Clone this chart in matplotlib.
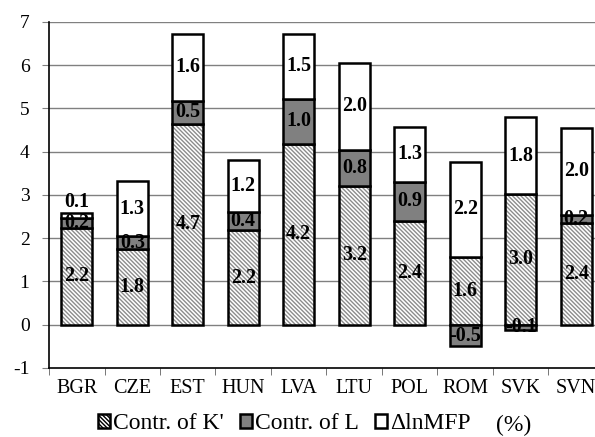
import numpy as np
import matplotlib
matplotlib.use('Agg')
import matplotlib.pyplot as plt
from matplotlib.patches import Patch

plt.rcParams['font.family'] = ['Liberation Serif', 'DejaVu Serif']
plt.rcParams['hatch.linewidth'] = 1.0

# datos (%)
paises = ['BGR', 'CZE', 'EST', 'HUN', 'LVA', 'LTU', 'POL', 'ROM', 'SVK', 'SVN']
contr_k = [2.23, 1.76, 4.65, 2.18, 4.19, 3.21, 2.40, 1.57, 3.02, 2.35]
contr_l = [0.24, 0.28, 0.53, 0.42, 1.03, 0.84, 0.90, -0.50, -0.12, 0.18]
mfp = [0.11, 1.28, 1.55, 1.22, 1.51, 2.01, 1.28, 2.19, 1.78, 2.03]

k = np.array(contr_k)
l = np.array(contr_l)
m = np.array(mfp)
x = np.arange(len(paises))
ancho = 0.56
rayado = '\\' * 8

# base de cada segmento (los negativos van para abajo desde cero)
base_l = np.where(l >= 0, k, 0)
tope_pos = k + np.where(l > 0, l, 0)

fig = plt.figure(figsize=(5.95, 4.37), dpi=100)
ax = fig.add_axes([0.0824, 0.158, 1.015 - 0.0824, 0.9497 - 0.158])

# segmento K' rayado
ax.bar(x, k, ancho, color='white', edgecolor='#8c8c8c', hatch=rayado, linewidth=0, zorder=2)
ax.bar(x, k, ancho, fill=False, edgecolor='black', linewidth=1.8, zorder=3)
# segmento L gris
ax.bar(x, l, ancho, bottom=base_l, color='#808080', edgecolor='black', linewidth=1.8, zorder=3)
# segmento MFP blanco
ax.bar(x, m, ancho, bottom=tope_pos, color='white', edgecolor='black', linewidth=1.8, zorder=3)

fs = 14.4
for i in range(len(x)):
    ax.text(x[i], k[i] / 2, '%.1f' % k[i], ha='center', va='center', fontsize=fs, fontweight='bold', zorder=4)
    ax.text(x[i], base_l[i] + l[i] / 2, '%.1f' % l[i], ha='center', va='center', fontsize=fs, fontweight='bold', zorder=4)
    if m[i] < 0.2:
        ax.text(x[i], tope_pos[i] + m[i] + 0.02, '%.1f' % m[i], ha='center', va='bottom', fontsize=fs, fontweight='bold', zorder=4)
    else:
        ax.text(x[i], tope_pos[i] + m[i] / 2, '%.1f' % m[i], ha='center', va='center', fontsize=fs, fontweight='bold', zorder=4)

ax.set_ylim(-1, 7)
ax.set_xlim(-0.5, len(x) - 0.5)
ax.set_yticks(range(-1, 8))
ax.set_yticklabels([str(v) for v in range(-1, 8)], fontsize=14)
for v in range(0, 8):
    ax.axhline(v, color='#808080', linewidth=1.0, zorder=1)

ax.set_xticks(x)
ax.set_xticklabels(paises, fontsize=14.5)
ax.set_xticks(np.arange(-0.5, len(x) + 0.5, 1), minor=True)
ax.tick_params(axis='x', which='major', length=0, pad=8)
ax.tick_params(axis='x', which='minor', length=5, color='#606060')
ax.tick_params(axis='y', length=5, color='#808080', pad=9)

for s in ['top', 'right']:
    ax.spines[s].set_visible(False)
ax.spines['left'].set_linewidth(1.2)
ax.spines['bottom'].set_linewidth(1.2)

handles = [Patch(facecolor='white', edgecolor='black', hatch=rayado, linewidth=1.8),
           Patch(facecolor='#808080', edgecolor='black', linewidth=1.8),
           Patch(facecolor='white', edgecolor='black', linewidth=1.8)]
fig.legend(handles, ["Contr. of K'", 'Contr. of L', '\u0394lnMFP'], loc='center',
           bbox_to_anchor=(0.478, 0.03), ncol=3, frameon=False, fontsize=17,
           handlelength=0.5, handleheight=0.5, handletextpad=0.13, columnspacing=0.7,
           borderaxespad=0, borderpad=0)
fig.text(0.863, 0.027, '(%)', fontsize=17, ha='center', va='center')

fig.savefig('out.png', dpi=100)
